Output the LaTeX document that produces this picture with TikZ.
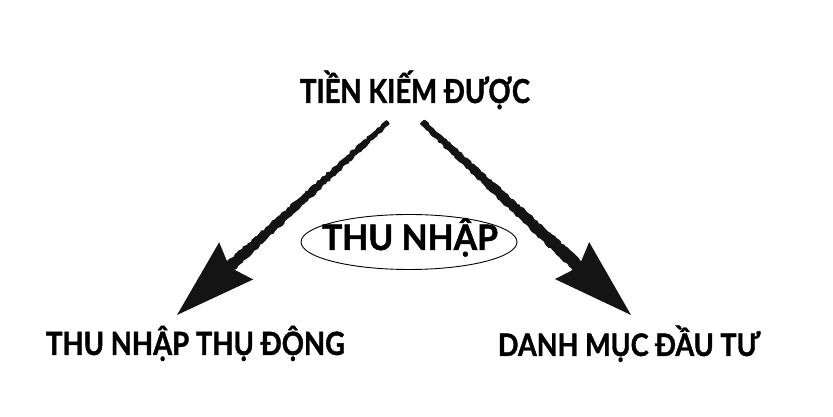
\documentclass[tikz,border=0pt]{standalone}
\usepackage{fontspec}
\setmainfont{Lato}[BoldFeatures={FakeBold=1.4}]
\usetikzlibrary{arrows.meta,shapes.geometric,calc,decorations.pathmorphing}
\newsavebox\fitbox
\newcommand\fitw[2]{\sbox\fitbox{#2}\pgfmathsetmacro\fitr{#1/\the\wd\fitbox}\scalebox{\fitr}[1]{\usebox\fitbox}}
\begin{document}
\begin{tikzpicture}[x=1pt,y=1pt,
  lbl/.style={inner sep=0pt, anchor=base},
  brush/.style={draw=black!92, line width=2pt, line cap=butt, -{Stealth[length=80pt,width=50pt,inset=9pt]}},
  rough/.style={fill=black!92, decorate, decoration={random steps, segment length=2.5pt, amplitude=0.9pt}}]
\useasboundingbox[fill=white] (0,0) rectangle (833,417);
\pgfmathsetseed{7}
\node[lbl, font=\bfseries\fontsize{33}{33}\selectfont] (top) at (415,314) {\fitw{230}{TIỀN KIẾM ĐƯỢC}};
\node[draw, ellipse, line width=0.9pt, minimum width=216pt, minimum height=55pt, inner sep=0pt] (ring) at (409,175) {};
\node[lbl, font=\bfseries\fontsize{35}{35}\selectfont] (inc) at (410,167) {\fitw{176}{THU NHẬP}};
\node[lbl, font=\bfseries\fontsize{32}{32}\selectfont] (passive) at (195.5,62) {\fitw{299}{THU NHẬP THỤ ĐỘNG}};
\node[lbl, font=\bfseries\fontsize{31}{31}\selectfont] (port) at (629,61) {\fitw{262}{DANH MỤC ĐẦU TƯ}};
\coordinate (ls) at (388,295);
\coordinate (lt) at (177,102);
\coordinate (rs) at (422,295);
\coordinate (rt) at (631,102);
\coordinate (lm) at ($(lt)!66pt!(ls)$);
\coordinate (rm) at ($(rt)!66pt!(rs)$);
\draw[brush] (ls) -- (lt);
\fill[rough] ($(ls)!2.5pt!90:(lt)$) -- ($(lm)!5.5pt!-90:(ls)$) -- ($(lm)!5.5pt!90:(ls)$) -- ($(ls)!2.5pt!-90:(lt)$) -- cycle;
\draw[brush] (rs) -- (rt);
\fill[rough] ($(rs)!3pt!90:(rt)$) -- ($(rm)!6.5pt!-90:(rs)$) -- ($(rm)!6.5pt!90:(rs)$) -- ($(rs)!3pt!-90:(rt)$) -- cycle;
\end{tikzpicture}
\end{document}
